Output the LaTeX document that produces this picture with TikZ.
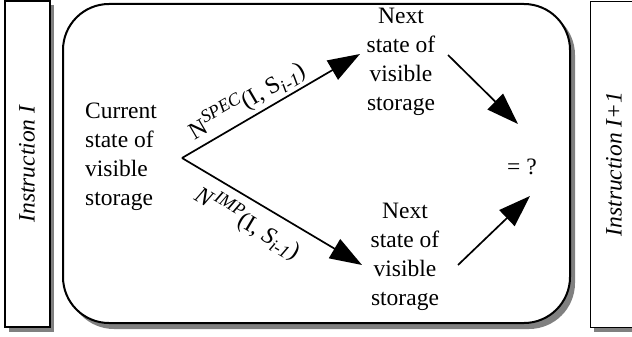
\documentclass[tikz,border=0pt]{standalone}
\usepackage{fontspec}
\setmainfont{Liberation Serif}
\usetikzlibrary{arrows.meta}
\definecolor{shadowgray}{RGB}{128,128,128}
\newcommand{\mysup}[1]{\raisebox{0.38em}{\fontsize{18}{18}\selectfont\itshape #1}}
\newcommand{\mysub}[1]{\raisebox{-0.2em}{\fontsize{18}{18}\selectfont\itshape #1}}
\tikzset{
  txt/.style={font=\fontsize{23.5}{29}\selectfont, align=center, inner sep=0pt},
  vtxt/.style={rotate=90, font=\fontsize{23.5}{28}\selectfont\itshape, inner sep=0pt},
  lbl/.style={font=\fontsize{24}{26}\selectfont, inner sep=0pt, sloped},
  arr/.style={line width=1.7pt, -{Triangle[length=32pt,width=22pt]}},
  shadowfill/.style={fill=shadowgray, draw=none},
}
\begin{document}
\begin{tikzpicture}[x=1pt,y=-1pt]
\useasboundingbox (0,0) rectangle (632,337);
\clip (0,0) rectangle (632,337);
% left instruction box
\fill[shadowfill] (9,5) rectangle (54,332);
\draw[fill=white, line width=1.2pt] (5,1) rectangle (50,327);
\node[vtxt] (instrI) at (27,164) {Instruction I};
% right instruction box
\fill[shadowfill] (594,5) rectangle (650,332);
\draw[fill=white, line width=0.9pt] (590,1) rectangle (650,327);
\node[vtxt] (instrII) at (614,164) {Instruction I+1};
% main rounded box
\fill[shadowfill, rounded corners=46pt] (68,9) rectangle (575,329);
\draw[fill=white, line width=2pt, rounded corners=46pt] (63,4) rectangle (570,323);
% texts
\node[txt, align=left] (cur) at (121,157) {Current\\state of\\visible\\storage};
\node[txt] (nextA) at (401,62) {Next\\state of\\visible\\storage};
\node[txt] (nextB) at (405,257) {Next\\state of\\visible\\storage};
\node[txt] (eq) at (522,167) {= ?};
% connector end points
\coordinate (br) at (182,158);
\coordinate (tA) at (360,54);
\coordinate (tB) at (362,265);
\coordinate (sA) at (448,55);
\coordinate (eA) at (518,124);
\coordinate (sB) at (458,265);
\coordinate (eB) at (530,196);
% arrows
\draw[arr] (br) -- node[lbl, pos=0.41, above=3pt] {N\mysup{SPEC}(I, S\mysub{i-1})} (tA);
\draw[arr] (br) -- node[lbl, pos=0.43, below=8pt] {\textit{N}\mysup{IMP}(I, \textit{S}\mysub{i-1})} (tB);
\draw[arr] (sA) -- (eA);
\draw[arr] (sB) -- (eB);
\end{tikzpicture}
\end{document}
